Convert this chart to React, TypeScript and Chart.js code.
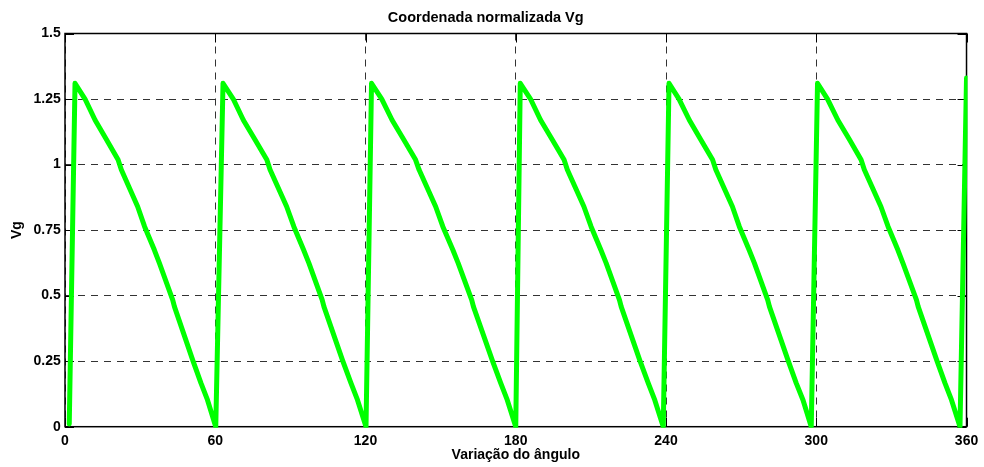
import { useEffect, useRef } from "react";
import { Chart, registerables } from "chart.js";

Chart.register(...registerables);

// Ângulo (graus) e Vg normalizada, período a período
const angulo: number[] = [
  1.7, 4.0, 8.0, 12.0, 16.6, 21.2, 22.5, 29.0, 31.8, 35.7, 37.7, 43.0, 43.7, 51.0, 54.3, 56.9, 60.2,
  63.1, 67.2, 71.2, 75.9, 80.6, 81.9, 88.5, 91.4, 95.3, 97.4, 102.7, 103.4, 110.8, 114.2, 116.8, 120.2,
  122.4, 126.5, 130.6, 135.3, 140.0, 141.4, 148.0, 150.9, 154.9, 157.0, 162.4, 163.1, 170.6, 174.0, 176.6, 180.0,
  181.8, 185.9, 189.9, 194.6, 199.3, 200.6, 207.2, 210.1, 214.0, 216.1, 221.4, 222.1, 229.5, 232.9, 235.5, 238.9,
  241.2, 245.2, 249.3, 253.9, 258.6, 259.9, 266.5, 269.3, 273.2, 275.3, 280.6, 281.3, 288.7, 292.0, 294.7, 298.0,
  300.5, 304.5, 308.6, 313.3, 317.9, 319.2, 325.8, 328.7, 332.6, 334.6, 340.0, 340.7, 348.1, 351.4, 354.0, 357.4,
  360.0,
];

const vg: number[] = [
  0.01, 1.31, 1.25, 1.17, 1.095, 1.018, 0.98, 0.84, 0.763, 0.674, 0.624, 0.484, 0.458, 0.254, 0.166, 0.102, 0.0,
  1.31, 1.25, 1.17, 1.095, 1.018, 0.98, 0.84, 0.763, 0.674, 0.624, 0.484, 0.458, 0.254, 0.166, 0.102, 0.0,
  1.31, 1.25, 1.17, 1.095, 1.018, 0.98, 0.84, 0.763, 0.674, 0.624, 0.484, 0.458, 0.254, 0.166, 0.102, 0.0,
  1.31, 1.25, 1.17, 1.095, 1.018, 0.98, 0.84, 0.763, 0.674, 0.624, 0.484, 0.458, 0.254, 0.166, 0.102, 0.0,
  1.31, 1.25, 1.17, 1.095, 1.018, 0.98, 0.84, 0.763, 0.674, 0.624, 0.484, 0.458, 0.254, 0.166, 0.102, 0.0,
  1.31, 1.25, 1.17, 1.095, 1.018, 0.98, 0.84, 0.763, 0.674, 0.624, 0.484, 0.458, 0.254, 0.166, 0.102, 0.0,
  1.33,
];

const xTicks: number[] = [0, 60, 120, 180, 240, 300, 360];
const yTicks: number[] = [0, 0.25, 0.5, 0.75, 1, 1.25, 1.5];
const yTickLabels: string[] = ["0", "0.25", "0.5", "0.75", "1", "1.25", "1.5"];

const FONT = "'Liberation Sans', Arial, Helvetica, sans-serif";

// Moldura do eixo com marcas de escala voltadas para dentro
const axesBox = {
  id: "axesBox",
  beforeDatasetsDraw(chart: any) {
    const { ctx, chartArea: a, scales } = chart;
    const tick = 9;
    ctx.save();
    ctx.strokeStyle = "#000";
    ctx.lineWidth = 1;
    ctx.setLineDash([]);
    ctx.beginPath();
    for (const v of xTicks) {
      const px = Math.round(scales.x.getPixelForValue(v)) + 0.5;
      ctx.moveTo(px, a.bottom);
      ctx.lineTo(px, a.bottom - tick);
      ctx.moveTo(px, a.top);
      ctx.lineTo(px, a.top + tick);
    }
    for (const v of yTicks) {
      const py = Math.round(scales.y.getPixelForValue(v)) + 0.5;
      ctx.moveTo(a.left, py);
      ctx.lineTo(a.left + tick, py);
      ctx.moveTo(a.right, py);
      ctx.lineTo(a.right - tick, py);
    }
    ctx.stroke();
    ctx.lineWidth = 1.5;
    ctx.strokeRect(a.left, a.top, a.right - a.left, a.bottom - a.top);
    ctx.restore();
  },
};

export default function App() {
  const canvasRef = useRef<HTMLCanvasElement | null>(null);

  useEffect(() => {
    if (!canvasRef.current) return;
    const chart = new Chart(canvasRef.current, {
      type: "line",
      data: {
        datasets: [
          {
            data: angulo.map((a, i) => ({ x: a, y: vg[i] })),
            borderColor: "#00ff00",
            borderWidth: 5,
            pointRadius: 0,
            tension: 0,
            borderJoinStyle: "round",
            borderCapStyle: "round",
            clip: 1,
          },
        ],
      },
      options: {
        animation: false,
        responsive: true,
        maintainAspectRatio: false,
        layout: { padding: { left: 0, right: 12.5, top: 0, bottom: 0 } },
        plugins: {
          legend: { display: false },
          tooltip: { enabled: false },
          title: {
            display: true,
            text: "Coordenada normalizada Vg",
            color: "#000",
            font: { family: FONT, size: 14.5, weight: "bold" },
            padding: { top: 8.8, bottom: 7.3 },
          },
        },
        scales: {
          x: {
            type: "linear",
            min: 0,
            max: 360,
            afterBuildTicks: (s: any) => {
              s.ticks = xTicks.map((v) => ({ value: v }));
            },
            afterFit: (s: any) => {
              s.height = 40.3;
            },
            ticks: {
              autoSkip: false,
              maxRotation: 0,
              padding: 5.8,
              color: "#000",
              font: { family: FONT, size: 14, weight: "bold" },
              callback: (v: any) => String(v),
            },
            grid: { color: "#333", lineWidth: 1, drawTicks: false },
            border: { display: false, dash: [7, 6] },
            title: {
              display: true,
              text: "Variação do ângulo",
              color: "#000",
              font: { family: FONT, size: 14, weight: "bold" },
              padding: { top: 0, bottom: 3.4 },
            },
          },
          y: {
            type: "linear",
            min: 0,
            max: 1.5,
            afterBuildTicks: (s: any) => {
              s.ticks = yTicks.map((v) => ({ value: v }));
            },
            afterFit: (s: any) => {
              s.width = 65;
            },
            ticks: {
              autoSkip: false,
              padding: 4.3,
              color: "#000",
              font: { family: FONT, size: 14, weight: "bold" },
              callback: (v: any) => {
                const i = yTicks.indexOf(Number(v));
                return i >= 0 ? yTickLabels[i] : "";
              },
            },
            grid: { color: "#333", lineWidth: 1, drawTicks: false },
            border: { display: false, dash: [7, 6] },
            title: {
              display: true,
              text: "Vg",
              color: "#000",
              font: { family: FONT, size: 14, weight: "bold" },
              padding: { top: 8.6, bottom: 0 },
            },
          },
        },
      },
      plugins: [axesBox],
    });
    return () => chart.destroy();
  }, []);

  return (
    <div style={{ position: "absolute", left: 0, top: 0, width: 984, height: 467, background: "#fff" }}>
      <canvas ref={canvasRef} />
    </div>
  );
}
